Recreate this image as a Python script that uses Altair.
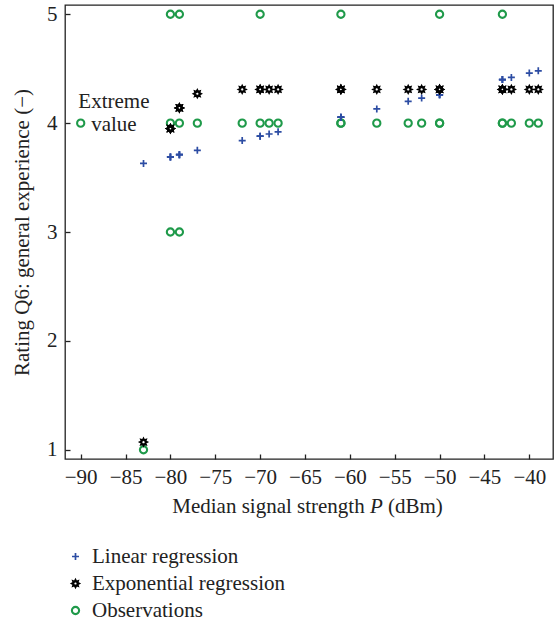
import altair as alt
import pandas as pd

# ---------------- data ----------------
series_names = ["Linear regression", "Exponential regression", "Observations"]

obs_x = [-90, -83, -80, -80, -80, -79, -79, -79, -77, -72, -70, -70, -69, -68,
         -61, -61, -61, -57, -53.5, -52, -50, -50, -50, -43, -43, -43, -42, -40, -39]
obs_y = [4, 1, 5, 4, 3, 5, 4, 3, 4, 4, 5, 4, 4, 4,
         5, 4, 4, 4, 4, 4, 5, 4, 4, 5, 4, 4, 4, 4, 4]

reg_x = [-83, -80, -80, -80, -79, -79, -79, -77, -72, -70, -70, -69, -68,
         -61, -61, -61, -57, -53.5, -52, -50, -50, -50, -43, -43, -43, -42, -40, -39]
lin_y = [3.63, 3.69, 3.69, 3.69, 3.71, 3.71, 3.71, 3.75, 3.84, 3.88, 3.88, 3.90, 3.92,
         4.055, 4.055, 4.055, 4.13, 4.20, 4.23, 4.26, 4.26, 4.26, 4.40, 4.40, 4.40, 4.42, 4.46, 4.48]
exp_y = [1.07, 3.95, 3.95, 3.95, 4.14, 4.14, 4.14, 4.27, 4.31, 4.31, 4.31, 4.31, 4.31,
         4.31, 4.31, 4.31, 4.31, 4.31, 4.31, 4.31, 4.31, 4.31, 4.31, 4.31, 4.31, 4.31, 4.31, 4.31]

x_ticks = [-90, -85, -80, -75, -70, -65, -60, -55, -50, -45, -40]
y_ticks = [1, 2, 3, 4, 5]

annotation_x = [-86.3]
annotation_y = [4.14]
annotation_text = ["Extreme\nvalue"]

x_title_parts = ["Median signal strength", "P", "(dBm)"]
y_title = "Rating Q6: general experience (\u2212)"

# ---------------- styling ----------------
FONT = "Liberation Serif"
FS = 21
TXT = "#222222"
colors = ["#2c4ca3", "#000000", "#1f9a4a"]
plus_path = "M-1,0H1M0,-1V1"
star_path = ("M0,-1L0.23,-0.554L0.707,-0.707L0.554,-0.23L1,0L0.554,0.23L0.707,0.707"
             "L0.23,0.554L0,1L-0.23,0.554L-0.707,0.707L-0.554,0.23L-1,0L-0.554,-0.23"
             "L-0.707,-0.707L-0.23,-0.554Z")
shapes = [plus_path, star_path, "circle"]

df = pd.DataFrame({
    "P": obs_x + reg_x + reg_x,
    "rating": obs_y + lin_y + exp_y,
    "series": ["Observations"] * len(obs_x)
              + ["Linear regression"] * len(reg_x)
              + ["Exponential regression"] * len(reg_x),
})

xscale = alt.Scale(domain=[-91.75, -37.36], nice=False, zero=False)
yscale = alt.Scale(domain=[0.915, 5.085], nice=False, zero=False)

legend = alt.Legend(title=None, orient="none", legendX=0, legendY=541,
                    rowPadding=5, labelOffset=6, symbolSize=49,
                    symbolStrokeWidth=1.6, padding=0, labelLimit=400,
                    labelFont=FONT, labelFontSize=FS, labelColor=TXT)

points = alt.Chart(df).mark_point(filled=False, opacity=1).encode(
    x=alt.X("P:Q", scale=xscale,
            axis=alt.Axis(values=x_ticks, title=None, offset=-5, tickSize=5,
                          domain=False, labelPadding=7, format="d",
                          labelFont=FONT, labelFontSize=FS, labelColor=TXT)),
    y=alt.Y("rating:Q", scale=yscale,
            axis=alt.Axis(values=y_ticks, title=y_title, offset=-5, tickSize=5,
                          domain=False, labelPadding=8, titlePadding=14, format="d",
                          labelFont=FONT, labelFontSize=FS, labelColor=TXT,
                          titleFont=FONT, titleFontSize=FS, titleFontWeight="normal",
                          titleColor=TXT)),
    color=alt.Color("series:N", scale=alt.Scale(domain=series_names, range=colors),
                    legend=legend),
    shape=alt.Shape("series:N", scale=alt.Scale(domain=series_names, range=shapes),
                    legend=legend),
    size=alt.Size("series:N", scale=alt.Scale(domain=series_names, range=[49, 52, 40]),
                  legend=None),
    strokeWidth=alt.StrokeWidth("series:N",
                                scale=alt.Scale(domain=series_names, range=[1.7, 2.1, 1.5]),
                                legend=None),
)

ann = alt.Chart(pd.DataFrame({"P": annotation_x, "rating": annotation_y,
                              "t": annotation_text})).mark_text(
    lineBreak="\n", align="center", baseline="alphabetic", font=FONT,
    fontSize=FS, lineHeight=23, color=TXT
).encode(x=alt.X("P:Q", scale=xscale), y=alt.Y("rating:Q", scale=yscale), text="t:N")

t1 = alt.Chart(pd.DataFrame({"t": [x_title_parts[0]]})).mark_text(
    align="right", baseline="alphabetic", font=FONT, fontSize=FS, color=TXT
).encode(text="t:N", x=alt.value(299.7), y=alt.value(508))
t2 = alt.Chart(pd.DataFrame({"t": [x_title_parts[1]]})).mark_text(
    align="center", baseline="alphabetic", font=FONT, fontSize=FS, fontStyle="italic",
    color=TXT
).encode(text="t:N", x=alt.value(311.3), y=alt.value(508))
t3 = alt.Chart(pd.DataFrame({"t": [x_title_parts[2]]})).mark_text(
    align="left", baseline="alphabetic", font=FONT, fontSize=FS, color=TXT
).encode(text="t:N", x=alt.value(323.0), y=alt.value(508))

chart = alt.layer(points, ann, t1, t2, t3).properties(
    width=488, height=454,
    padding={"left": 65, "top": 5, "right": 3, "bottom": 162},
    autosize=alt.AutoSizeParams(type="none"),
).configure_view(
    stroke=TXT, strokeWidth=1.3
).configure_axis(
    grid=False, labelFont=FONT, labelFontSize=FS, labelColor=TXT,
    titleFont=FONT, titleFontSize=FS, titleFontWeight="normal", titleColor=TXT,
    tickColor=TXT, tickWidth=1.3
).configure_legend(
    labelFont=FONT, labelFontSize=FS, labelColor=TXT
)

chart.save("out.html", embed_options={"renderer": "svg", "actions": False})
